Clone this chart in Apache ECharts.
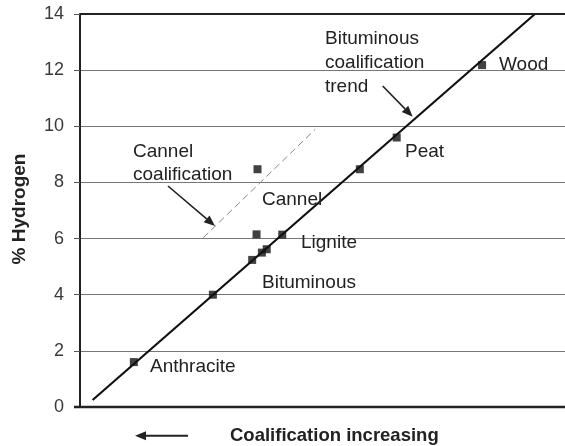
<!DOCTYPE html>
<html><head><meta charset="utf-8">
<script src="https://cdn.jsdelivr.net/npm/echarts@6/dist/echarts.min.js"></script>
<style>html,body{margin:0;padding:0;background:#fff}#c{width:565px;height:446px}</style>
</head><body><div id="c"></div>
<script>
// y-axis ticks (% Hydrogen)
const yTicks = [0, 2, 4, 6, 8, 10, 12, 14];
// bituminous coalification trend line (x: arbitrary coalification units, y: % H)
const trendX = [2.6, 93.8];
const trendY = [0.25, 14];
// sample points
const coalX = [11.1, 27.4, 35.5, 37.5, 38.5, 41.7, 36.4, 36.6, 57.7, 65.3, 82.9];
const coalY = [1.6, 4.0, 5.24, 5.5, 5.62, 6.14, 6.15, 8.47, 8.47, 9.6, 12.18];
// cannel coalification dashed trend
const cannelX = [25.4, 48.5];
const cannelY = [6.03, 9.89];

const FONT = '"Liberation Sans", Arial, sans-serif';
const chart = echarts.init(document.getElementById('c'), null, {renderer: 'canvas'});

function txt(x, y, s, extra) {
  return {
    type: 'text', x: x, y: y, z: 10,
    style: Object.assign({text: s, fill: '#222', font: '19px ' + FONT, textVerticalAlign: 'middle', textAlign: 'left'}, extra || {})
  };
}
function arrow(x1, y1, x2, y2, w) {
  const ang = Math.atan2(y2 - y1, x2 - x1);
  const L = 11, W = 4.5;
  const bx = x2 - L * Math.cos(ang), by = y2 - L * Math.sin(ang);
  const px = -Math.sin(ang) * W, py = Math.cos(ang) * W;
  return [
    {type: 'line', z: 10, shape: {x1: x1, y1: y1, x2: bx, y2: by}, style: {stroke: '#222', lineWidth: w || 1.6}},
    {type: 'polygon', z: 10, shape: {points: [[x2, y2], [bx + px, by + py], [bx - px, by - py]]}, style: {fill: '#222'}}
  ];
}

const option = {
  animation: false,
  backgroundColor: '#fff',
  grid: {left: 80, right: 0, top: 14, bottom: 39},
  xAxis: {
    type: 'value', min: 0, max: 100,
    axisLine: {show: false}, axisTick: {show: false}, axisLabel: {show: false}, splitLine: {show: false}
  },
  yAxis: {
    type: 'value', min: 0, max: 14, interval: 2,
    axisLine: {show: true, onZero: false, lineStyle: {color: '#222', width: 2}},
    axisTick: {show: true, length: 6, lineStyle: {color: '#555', width: 1}},
    axisLabel: {margin: 16, color: '#3a3a3a', fontSize: 18, fontFamily: FONT,
      formatter: v => yTicks.includes(v) ? String(v) : ''},
    splitLine: {show: true, lineStyle: {color: '#777', width: 1.2}}
  },
  series: [
    {
      type: 'line', data: trendX.map((x, i) => [x, trendY[i]]),
      showSymbol: false, symbol: 'none', lineStyle: {color: '#111', width: 2.2}, z: 3
    },
    {
      type: 'line', data: cannelX.map((x, i) => [x, cannelY[i]]),
      showSymbol: false, symbol: 'none', lineStyle: {color: '#888', width: 1, type: [7, 4]}, z: 3
    },
    {
      type: 'scatter', data: coalX.map((x, i) => [x, coalY[i]]),
      symbol: 'rect', symbolSize: 8, itemStyle: {color: '#111'}, z: 5
    }
  ],
  graphic: [
    {type: 'line', z: 4, shape: {x1: 80, y1: 14, x2: 565, y2: 14}, style: {stroke: '#222', lineWidth: 2}},
    {type: 'line', z: 4, shape: {x1: 74, y1: 407, x2: 565, y2: 407}, style: {stroke: '#222', lineWidth: 2.5}},
    txt(325, 39, 'Bituminous'),
    txt(325, 63, 'coalification'),
    txt(325, 87, 'trend'),
    txt(499, 65, 'Wood'),
    txt(405, 152, 'Peat'),
    txt(133, 152, 'Cannel'),
    txt(133, 175, 'coalification'),
    txt(262, 200, 'Cannel'),
    txt(301, 243, 'Lignite'),
    txt(262, 283, 'Bituminous'),
    txt(150, 367, 'Anthracite'),
    txt(230, 436, 'Coalification increasing', {font: 'bold 18.5px ' + FONT}),
    {type: 'text', x: 20, y: 209, rotation: Math.PI / 2, z: 10,
      style: {text: '% Hydrogen', fill: '#222', font: 'bold 19px ' + FONT, textAlign: 'center', textVerticalAlign: 'middle'}},
    ...arrow(382.7, 86, 412.7, 116.7),
    ...arrow(168, 186, 215, 226),
    ...arrow(188, 435.7, 135, 435.7, 2)
  ]
};
chart.setOption(option);
</script>
</body></html>
